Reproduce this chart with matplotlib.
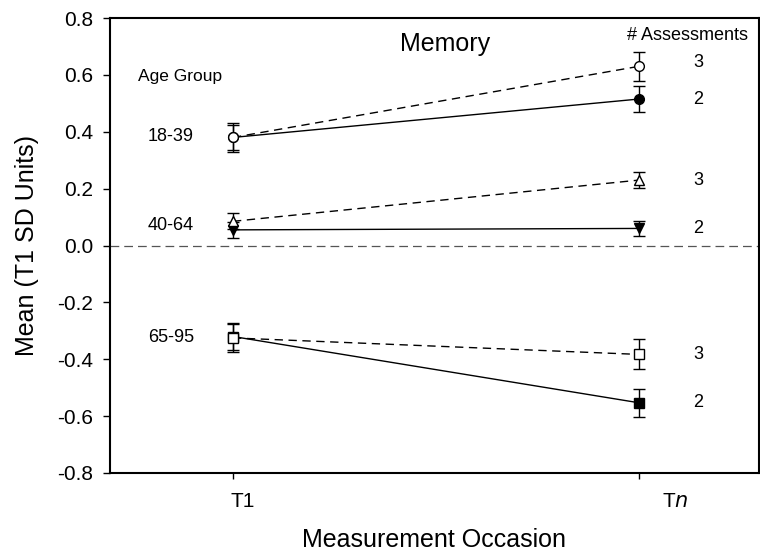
import matplotlib
matplotlib.use("Agg")
import matplotlib.pyplot as plt
import matplotlib.transforms as mtransforms

plt.rcParams['font.family'] = ['Liberation Sans', 'DejaVu Sans']

# occasions
occasions = [1, 2]
occasion_labels = ["T1", "T$\\it{n}$"]

# age groups, 3-assessment (open, dashed) and 2-assessment (filled, solid)
age_groups = ["18-39", "40-64", "65-95"]
age_label_y = [0.385, 0.072, -0.325]
markers = ["o", "^", "s"]
markers_2 = ["o", "v", "s"]

means_3 = [[0.38, 0.63], [0.085, 0.23], [-0.325, -0.383]]
err_3 = [[0.05, 0.05], [0.028, 0.028], [0.05, 0.053]]
means_2 = [[0.38, 0.515], [0.055, 0.06], [-0.32, -0.553]]
err_2 = [[0.045, 0.045], [0.027, 0.027], [0.048, 0.05]]

fig = plt.figure(figsize=(7.6, 5.56), dpi=100)
ax = fig.add_axes([110 / 760, 1 - 473 / 556, 649 / 760, 455 / 556])

ax.axhline(0, color="#555555", lw=0.9, ls=(0, (7, 4)), zorder=1)

for i in range(len(age_groups)):
    ax.errorbar(occasions, means_3[i], yerr=err_3[i], fmt=markers[i], ls="--",
                dashes=(6, 4), color="black", mfc="white", mec="black", ms=7,
                lw=1.0, capsize=4.5, elinewidth=1.0, capthick=1.0, zorder=3)
    ax.errorbar(occasions, means_2[i], yerr=err_2[i], fmt=markers_2[i], ls="-",
                color="black", mfc="black", mec="black", ms=7,
                lw=1.0, capsize=4.5, elinewidth=1.0, capthick=1.0, zorder=2)
    ax.text(0.847, age_label_y[i], age_groups[i], ha="center", va="center", fontsize=13)
    ax.text(2.146, means_3[i][1] + (0.013 if i == 0 else 0), "3",
            ha="center", va="center", fontsize=13)
    ax.text(2.146, means_2[i][1], "2", ha="center", va="center", fontsize=13)

ax.text(0.869, 0.596, "Age Group", ha="center", va="center", fontsize=12.5)
ax.text(2.12, 0.74, "# Assessments", ha="center", va="center", fontsize=13)
ax.text(1.522, 0.708, "Memory", ha="center", va="center", fontsize=18)

ax.set_xlim(0.697, 2.296)
ax.set_ylim(-0.8, 0.8)
ax.set_yticks([-0.8, -0.6, -0.4, -0.2, 0.0, 0.2, 0.4, 0.6, 0.8])
ax.set_yticklabels(["-0.8", "-0.6", "-0.4", "-0.2", "0.0", "0.2", "0.4", "0.6", "0.8"])
ax.set_xticks(occasions)
ax.set_xticklabels(occasion_labels)
ax.tick_params(axis="y", direction="out", length=5, width=1, labelsize=15, pad=7)
ax.tick_params(axis="x", direction="out", length=4, width=1, labelsize=15, pad=10)

# tick labels in the original sit to the right of their ticks
shifts = [0.1, 0.36]
for lab, dx in zip(ax.get_xticklabels(), shifts):
    lab.set_transform(lab.get_transform() + mtransforms.ScaledTranslation(dx, 0, fig.dpi_scale_trans))

for s in ax.spines.values():
    s.set_linewidth(1.5)

ax.set_xlabel("Measurement Occasion", fontsize=18, labelpad=12)
ax.set_ylabel("Mean (T1 SD Units)", fontsize=18, labelpad=13)

fig.savefig("out.png", dpi=100)
